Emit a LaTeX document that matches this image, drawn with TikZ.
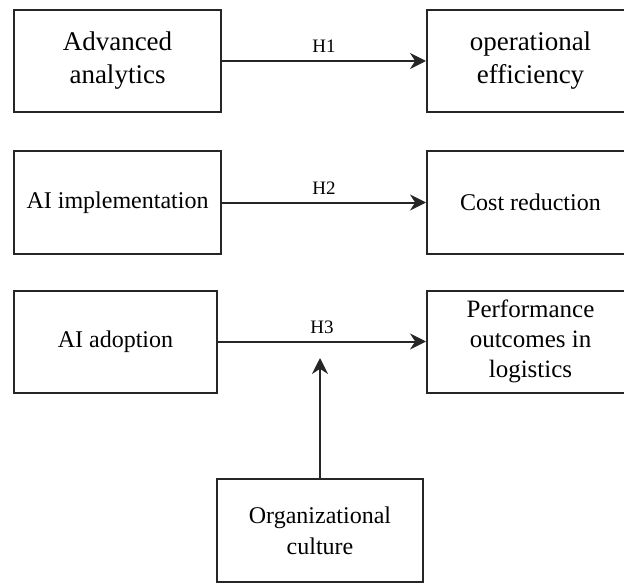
\documentclass[tikz,border=0pt]{standalone}
\usepackage{fontspec}
\setmainfont{Liberation Serif}
\usetikzlibrary{arrows.meta}
\tikzset{
  box/.style={draw=black!85, line width=2pt, minimum width=207pt, minimum height=102pt,
    align=center, inner sep=0pt, font=\fontsize{24}{31}\selectfont},
  hyp/.style={draw=black!85, line width=2pt, -{Stealth[length=16pt,width=16pt]}},
  hlabel/.style={midway, above=7pt, inner sep=0pt, font=\fontsize{19}{19}\selectfont},
}
\begin{document}
\begin{tikzpicture}[x=1pt,y=-1pt]
        \useasboundingbox (0,0) rectangle (624,583);
        % predictors
        \node[box, font=\fontsize{27}{33}\selectfont] (adv) at (117.5,61) {Advanced\\analytics};
        \node[box] (impl) at (117.5,202.5) {AI implementation};
        \node[box, minimum width=203pt] (adopt) at (115.5,341.5) {AI adoption};
        % outcomes
        \node[box, font=\fontsize{27}{33}\selectfont] (eff) at (530.5,61) {operational\\efficiency};
        \node[box] (cost) at (530.5,202.5) {Cost reduction};
        \node[box, font=\fontsize{25}{30}\selectfont] (perf) at (530.5,341.5) {Performance\\outcomes in\\logistics};
        % moderator
        \node[box, minimum width=206pt, minimum height=103pt] (cult) at (320,530.5) {Organizational\\culture};
        \coordinate (mod) at (320,358);
        % hypotheses
        \draw[hyp] (adv) -- (eff) node[hlabel] {H1};
        \draw[hyp] (impl) -- (cost) node[hlabel] {H2};
        \draw[hyp] (adopt) -- (perf) node[hlabel] {H3};
        \draw[hyp] (cult) -- (mod);
\end{tikzpicture}
\end{document}
